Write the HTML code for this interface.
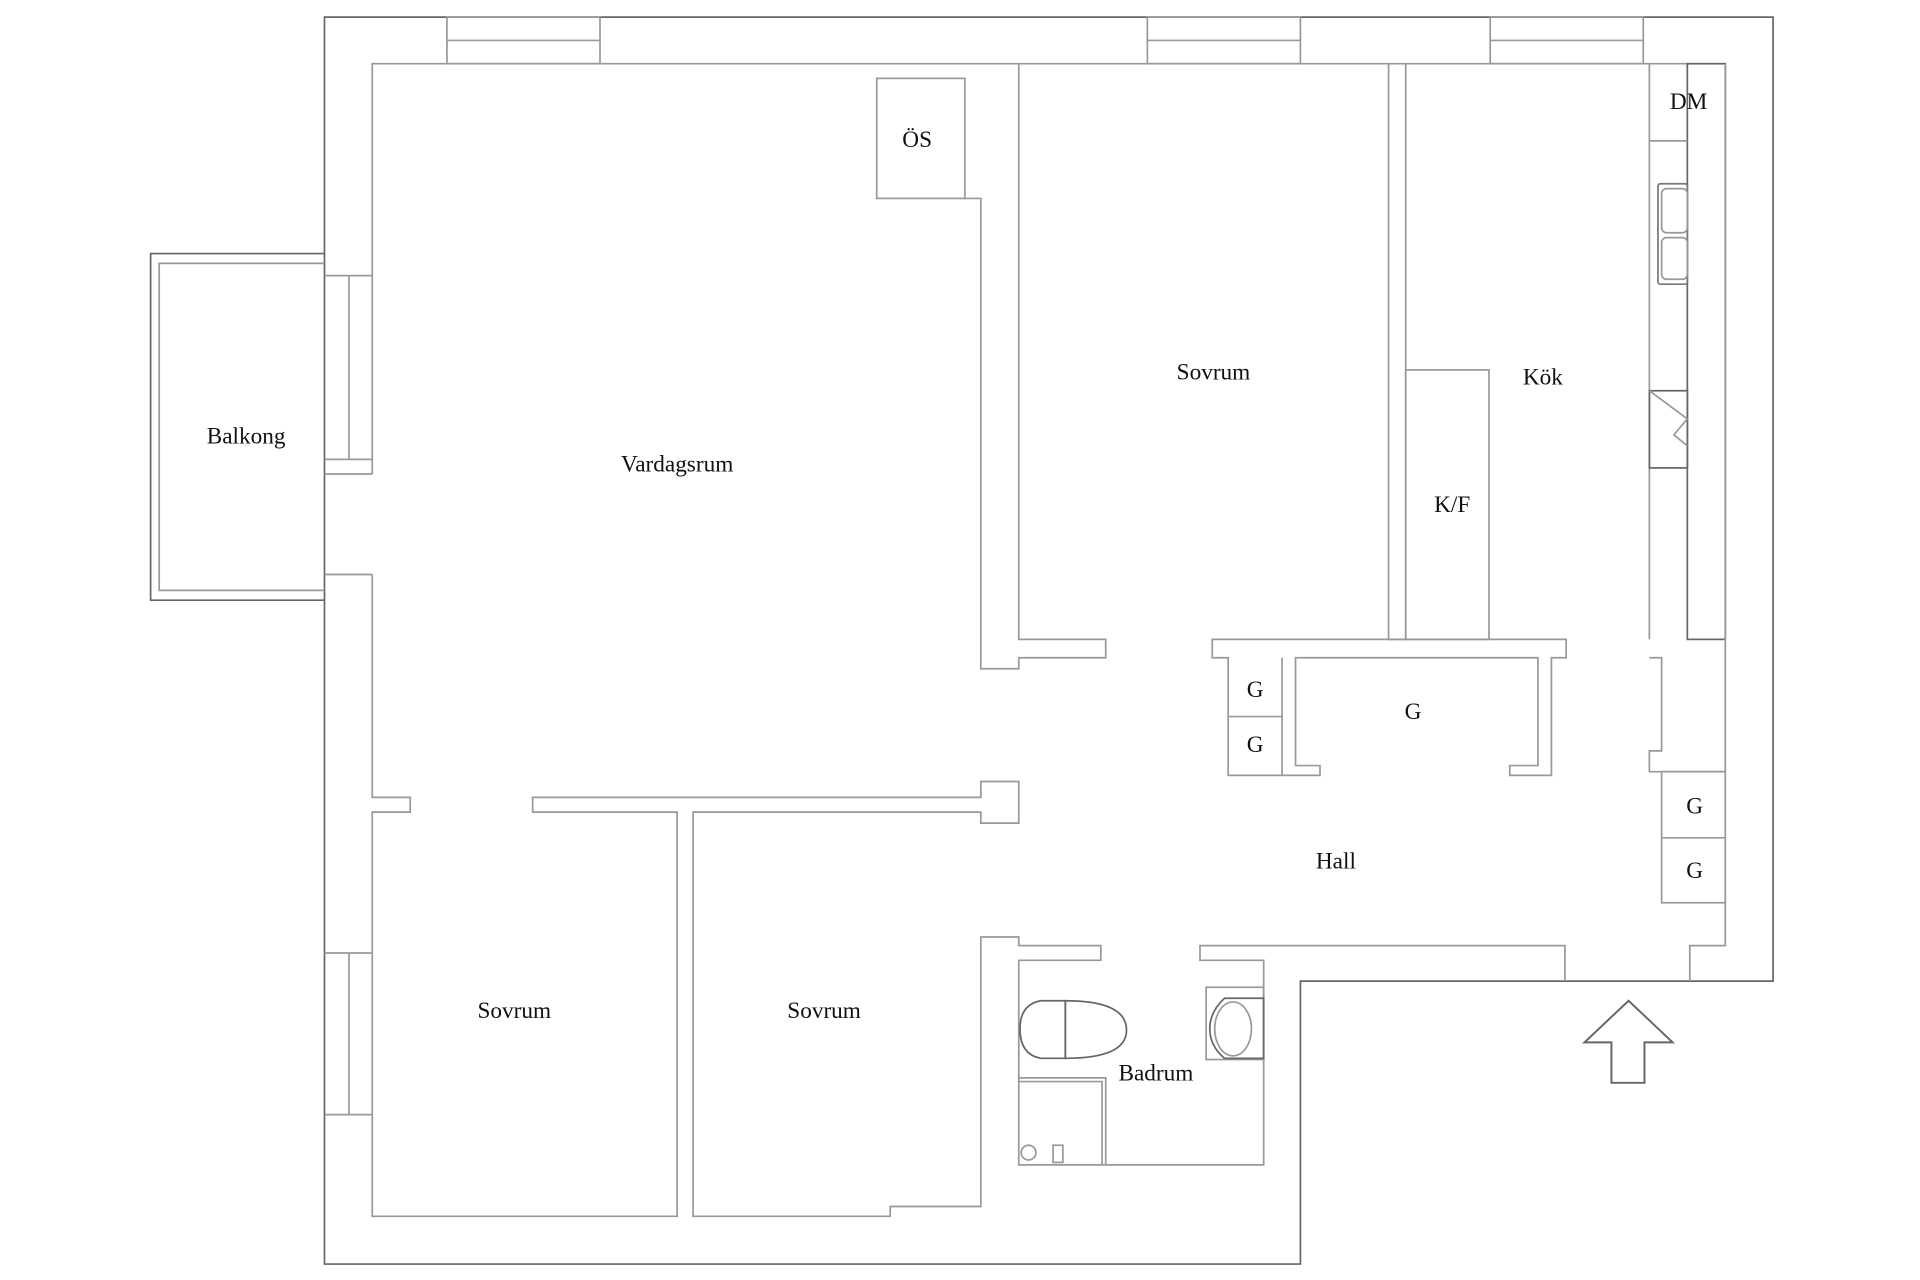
<!DOCTYPE html>
<html><head><meta charset="utf-8"><style>
html,body{margin:0;padding:0;background:#fff;}
svg{display:block;}
text{font-family:"Liberation Serif",serif;font-size:19px;fill:#111;text-anchor:middle;}
</style></head><body>
<svg width="1920" height="1280" viewBox="0 0 1568 1045" preserveAspectRatio="none" xmlns="http://www.w3.org/2000/svg">
<g fill="none" stroke="#999" stroke-width="1.4">
<!-- outer -->
<polygon points="265,14 1448,14 1448,801 1062,801 1062,1032 265,1032" stroke="#666"/>
<!-- balcony -->
<polyline points="265,207 123,207 123,490 265,490" stroke="#666"/>
<polyline points="265,215 130,215 130,482 265,482"/>
<!-- top windows -->
<rect x="365" y="14" width="125" height="38"/><line x1="365" y1="33" x2="490" y2="33"/>
<rect x="937" y="14" width="125" height="38"/><line x1="937" y1="33" x2="1062" y2="33"/>
<rect x="1217" y="14" width="125" height="38"/><line x1="1217" y1="33" x2="1342" y2="33"/>
<!-- left windows -->
<polyline points="265,225 304,225"/><line x1="285" y1="225" x2="285" y2="375"/><polyline points="265,375 304,375"/><polyline points="265,387 304,387"/>
<polyline points="265,469 304,469"/>
<line x1="265" y1="778" x2="304" y2="778"/><line x1="265" y1="910" x2="304" y2="910"/><line x1="285" y1="778" x2="285" y2="910"/>
<!-- Vardagsrum -->
<polyline points="304,387 304,52 716,52"/>
<polyline points="716,52 801,52"/>
<rect x="716" y="64" width="72" height="98"/>
<polyline points="788,162 801,162 801,546 832,546 832,537 903,537 903,522 832,522 832,52 1134,52 1134,522"/>
<line x1="801" y1="52" x2="832" y2="52"/>
<polyline points="304,469 304,651 335,651 335,663 304,663 304,993 553,993 553,663 435,663 435,651 801,651 801,638 832,638 832,672 801,672 801,663 566,663 566,993 727,993 727,985 801,985 801,765 832,765 832,772 899,772 899,784 832,784 832,951 1032,951 1032,784 980,784 980,772 1278,772 1278,801"/>
<!-- kitchen -->
<polyline points="1134,52 1148,52 1148,522 1134,522"/>
<line x1="1148" y1="52" x2="1378" y2="52"/>
<rect x="1148" y="302" width="68" height="220"/>
<polyline points="1347,52 1347,522"/>
<rect x="1378" y="52" width="31" height="470" stroke="#666"/>
<line x1="1347" y1="115" x2="1378" y2="115"/>
<rect x="1354" y="150" width="24" height="82" rx="2" stroke="#777"/>
<rect x="1357" y="154" width="21" height="36" rx="4"/><rect x="1357" y="194" width="21" height="34" rx="4"/>
<rect x="1347" y="319" width="31" height="63" stroke="#666"/>
<polyline points="1347,319 1378,342 1367,355 1378,364"/>
<!-- closets -->
<polygon points="990,522 1279,522 1279,537 1267,537 1267,633 1233,633 1233,625 1256,625 1256,537 1058,537 1058,625 1078,625 1078,633 1003,633 1003,537 990,537"/>
<line x1="1047" y1="537" x2="1047" y2="633"/><line x1="1003" y1="585" x2="1047" y2="585"/>
<polyline points="1409,52 1409,630"/>
<polyline points="1347,537 1357,537 1357,613 1347,613 1347,630 1409,630"/>
<rect x="1357" y="630" width="52" height="107"/><line x1="1357" y1="684" x2="1409" y2="684"/>
<polyline points="1409,737 1409,772 1380,772 1380,801"/>
<!-- bathroom -->
<polyline points="832,880 903,880 903,951"/><polyline points="832,883 900,883 900,951"/>
<circle cx="840" cy="941" r="6"/><rect x="860" y="935" width="8" height="14"/>
<path d="M870,817 Q920,817 920,841 Q920,864 870,864 Z" stroke="#666"/>
<path d="M870,817 L850,817 Q833,820 833,840 Q833,861 850,864 L870,864 Z" stroke="#666"/>
<rect x="985" y="806" width="47" height="59"/>
<path d="M1032,815 L1000,815 Q988,826 988,840 Q988,854 1000,864 L1032,864 Z" stroke="#666"/>
<ellipse cx="1007" cy="840" rx="15" ry="22"/>
<!-- arrow -->
<polygon points="1330,817 1366,851 1343,851 1343,884 1316,884 1316,851 1294,851" stroke="#666" stroke-width="1.6"/>
</g>
<text x="201" y="362">Balkong</text>
<text x="553" y="385">Vardagsrum</text>
<text x="749" y="120">ÖS</text>
<text x="991" y="310">Sovrum</text>
<text x="1260" y="314">Kök</text>
<text x="1379" y="89">DM</text>
<text x="1186" y="418">K/F</text>
<text x="1025" y="569">G</text>
<text x="1025" y="614">G</text>
<text x="1154" y="587">G</text>
<text x="1384" y="664">G</text>
<text x="1384" y="717">G</text>
<text x="1091" y="709">Hall</text>
<text x="420" y="831">Sovrum</text>
<text x="673" y="831">Sovrum</text>
<text x="944" y="882">Badrum</text>
</svg>
</body></html>
